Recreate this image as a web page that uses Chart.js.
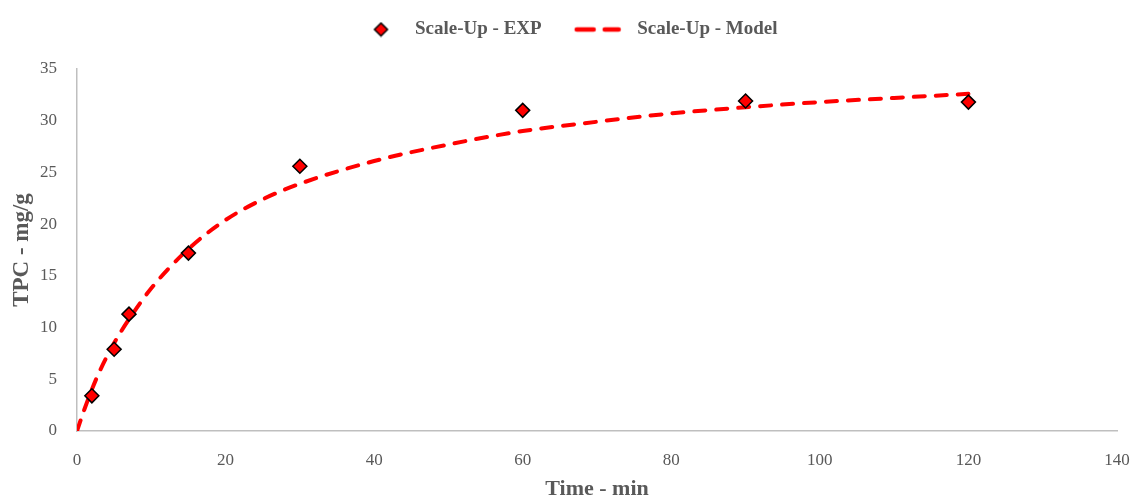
<!DOCTYPE html>
<html>
<head>
<meta charset="utf-8">
<script src="https://cdn.jsdelivr.net/npm/chart.js@4/dist/chart.umd.min.js"></script>
<style>
  html, body { margin: 0; padding: 0; background: #fff; }
</style>
</head>
<body>
<canvas id="chart" width="1133" height="500"></canvas>
<script>
// measured points
const expTime = [2, 5, 7, 15, 30, 60, 90, 120]
const expTPC = [3.4, 7.9, 11.3, 17.2, 25.6, 31.0, 31.9, 31.8]

// model curve
const modelTime = [0, 1, 2, 3, 5, 7, 10, 15, 20, 25, 30, 40, 50, 60, 70, 80, 90, 100, 110, 120]
const modelTPC = [0, 2.1, 4.0, 5.7, 8.5, 10.8, 13.8, 17.6, 20.4, 22.4, 23.9, 26.1, 27.7, 29.0, 29.9, 30.7, 31.3, 31.8, 32.2, 32.6]

const xTicks = [0, 20, 40, 60, 80, 100, 120, 140]
const yTicks = [0, 5, 10, 15, 20, 25, 30, 35]

const serif = "'Liberation Serif', 'DejaVu Serif', serif"
const grey = '#595959'

// little pictures for the legend: a diamond and a dashed stroke
const iconW = 66
const diamond = document.createElement('canvas')
diamond.width = iconW
diamond.height = 16
{
    const c = diamond.getContext('2d')
    const cx = 41.5
    c.beginPath()
    c.moveTo(cx, 1.5); c.lineTo(cx + 6.5, 8); c.lineTo(cx, 14.5); c.lineTo(cx - 6.5, 8); c.closePath()
    c.fillStyle = '#ff0000'
    c.fill()
    c.lineWidth = 1.5
    c.strokeStyle = '#000'
    c.stroke()
}
const dashIcon = document.createElement('canvas')
dashIcon.width = iconW
dashIcon.height = 16
{
    const c = dashIcon.getContext('2d')
    c.strokeStyle = '#ff0000'
    c.lineWidth = 4.5
    c.lineCap = 'round'
    c.beginPath(); c.moveTo(15, 8); c.lineTo(32, 8); c.stroke()
    c.beginPath(); c.moveTo(43, 8); c.lineTo(57, 8); c.stroke()
}
const legendIcons = [diamond, dashIcon]

// extra room under the legend
const legendSpace = {
    id: 'legendSpace',
    beforeInit: (chart) => {
        const fit = chart.legend.fit
        chart.legend.fit = function () {
            fit.bind(chart.legend)()
            this.height += 20
        }
    }
}

const ctx = document.getElementById('chart').getContext('2d')
new Chart(ctx, {
    type: 'scatter',
    plugins: [legendSpace],
    data: {
        datasets: [
            {
                label: 'Scale-Up - EXP',
                data: expTime.map((t, i) => ({x: t, y: expTPC[i]})),
                backgroundColor: '#ff0000',
                borderColor: '#000000',
                borderWidth: 1.5,
                pointStyle: 'rectRot',
                pointRadius: 7,
                showLine: false,
                order: 0
            },
            {
                label: 'Scale-Up - Model',
                data: modelTime.map((t, i) => ({x: t, y: modelTPC[i]})),
                showLine: true,
                borderColor: '#ff0000',
                backgroundColor: '#ff0000',
                borderWidth: 4,
                borderDash: [11, 11],
                borderCapStyle: 'round',
                cubicInterpolationMode: 'monotone',
                pointRadius: 0,
                order: 1
            }
        ]
    },
    options: {
        responsive: false,
        animation: false,
        layout: {padding: {top: 0, right: 16, left: 0, bottom: 0}},
        plugins: {
            legend: {
                display: true,
                position: 'top',
                labels: {
                    usePointStyle: true,
                    pointStyleWidth: iconW,
                    boxHeight: 16,
                    padding: 20,
                    color: grey,
                    font: {family: serif, size: 19, weight: 'bold'},
                    generateLabels: (chart) => chart.data.datasets.map((ds, i) => ({
                        text: ds.label,
                        datasetIndex: i,
                        pointStyle: legendIcons[i],
                        fontColor: grey,
                        lineWidth: 0,
                        hidden: false
                    }))
                }
            },
            tooltip: {enabled: false}
        },
        scales: {
            x: {
                type: 'linear',
                min: 0,
                max: 140,
                afterBuildTicks: (axis) => { axis.ticks = xTicks.map(v => ({value: v})) },
                grid: {display: false},
                border: {color: '#bfbfbf', width: 1.5},
                ticks: {color: grey, padding: 11, font: {family: serif, size: 17}},
                title: {
                    display: true,
                    text: 'Time - min',
                    color: grey,
                    padding: {top: 4, bottom: -3},
                    font: {family: serif, size: 22, weight: 'bold'}
                },
                afterFit: (axis) => {
                    axis.height = 69
                    axis.paddingRight = 0
                }
            },
            y: {
                min: 0,
                max: 35,
                afterBuildTicks: (axis) => { axis.ticks = yTicks.map(v => ({value: v})) },
                grid: {display: false},
                border: {color: '#bfbfbf', width: 1.5},
                ticks: {color: grey, padding: 12, font: {family: serif, size: 17}},
                title: {
                    display: true,
                    text: 'TPC - mg/g',
                    color: grey,
                    padding: {top: 8, bottom: 0},
                    font: {family: serif, size: 23, weight: 'bold'}
                },
                afterFit: (axis) => { axis.width = 77 }
            }
        }
    }
})
</script>
</body>
</html>
